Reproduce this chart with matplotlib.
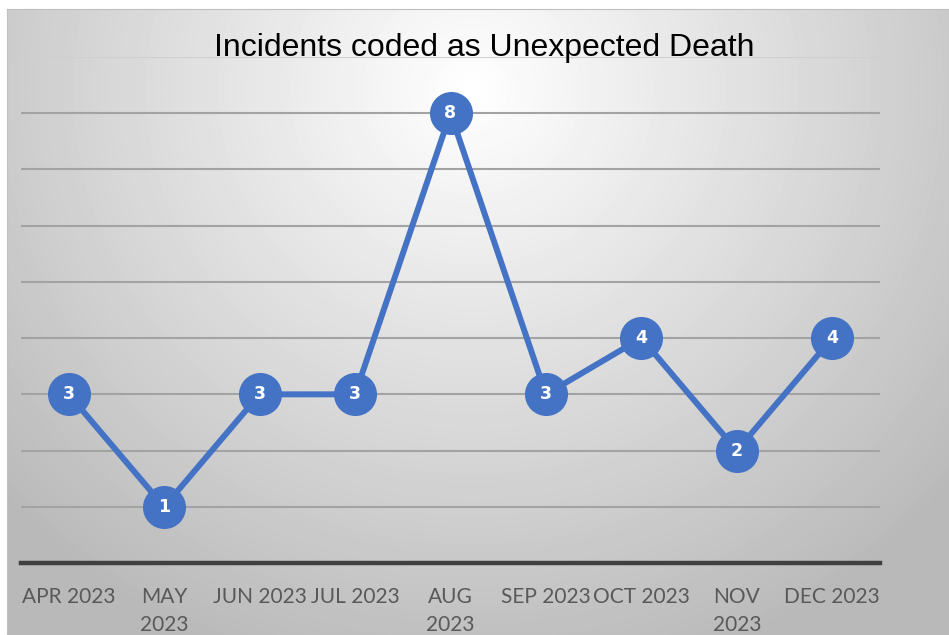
import matplotlib.pyplot as plt
import numpy as np

months = ["APR 2023", "MAY\n2023", "JUN 2023", "JUL 2023", "AUG\n2023",
          "SEP 2023", "OCT 2023", "NOV\n2023", "DEC 2023"]
incidents = [3, 1, 3, 3, 8, 3, 4, 2, 4]

blue = "#4472C4"

fig = plt.figure(figsize=(9.49, 6.35), dpi=100)

# radial grey background (chart area), small white margin top/left
bg = fig.add_axes([7 / 949, 0, 942 / 949, 626 / 635])
h, w = 626, 942
yy, xx = np.mgrid[0:h, 0:w]
cx, cy = 465, 80
r = np.sqrt(((xx - cx) / 580.0) ** 2 + ((yy - cy) / 560.0) ** 2)
shade = 1.0 - 0.25 * np.clip(r, 0, 1.1)
bg.imshow(shade, cmap="gray", vmin=0, vmax=1, aspect="auto", interpolation="bilinear")
bg.set_xticks([])
bg.set_yticks([])
for s in bg.spines.values():
    s.set_color("#bfbfbf")
    s.set_linewidth(0.8)

ax = fig.add_axes([21 / 949, (635 - 563) / 635, 859 / 949, (563 - 57) / 635])
ax.patch.set_alpha(0)
x = np.arange(len(months))
ax.set_xlim(-0.5, len(months) - 0.5)
ax.set_ylim(0, 9)

for v in range(1, 9):
    ax.axhline(v, color="#a3a3a3", lw=1.5, zorder=1)
ax.axhline(9, color="#cfcfcf", lw=1.5, zorder=1)
ax.axhline(0, color="#404040", lw=3.2, zorder=2, clip_on=False)

ax.plot(x, incidents, color=blue, lw=4.3, zorder=3, solid_capstyle="round")
ax.scatter(x, incidents, s=31 ** 2, color=blue, zorder=4, linewidths=0)
for xi, v in zip(x, incidents):
    ax.text(xi, v, str(v), color="white", fontsize=12.5, fontweight="bold",
            ha="center", va="center", zorder=5, family="DejaVu Sans")

for s in ax.spines.values():
    s.set_visible(False)
ax.set_yticks([])
ax.set_xticks(x)
ax.set_xticklabels(months, fontsize=15, color="#595959", family="Lato",
                   linespacing=1.5, va="top")
ax.tick_params(axis="x", length=0, pad=17)

fig.text(484 / 949, 1 - 48 / 635, "Incidents coded as Unexpected Death",
         ha="center", va="center", fontsize=23, family="Liberation Sans",
         color="black")

fig.savefig("out.png", dpi=100)
